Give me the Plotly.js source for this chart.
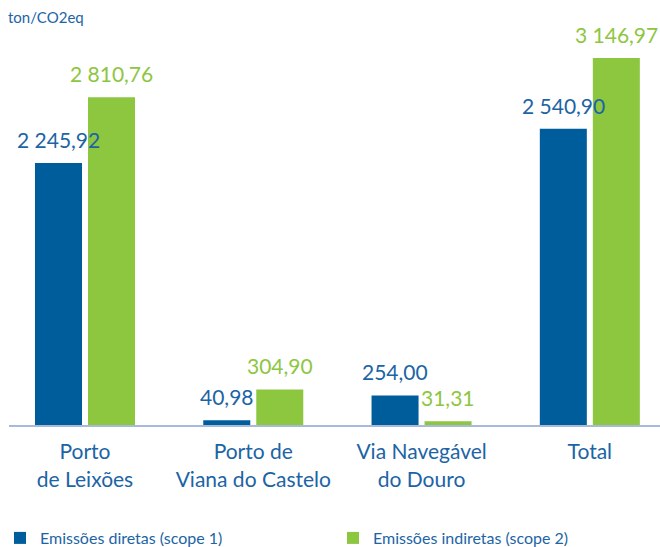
<!DOCTYPE html>
<html>
<head>
<meta charset="utf-8">
<script src="https://cdn.plot.ly/plotly-3.0.1.min.js"></script>
<style>
  html, body { margin: 0; padding: 0; background: #fff; }
  #chart { width: 660px; height: 547px; }
</style>
</head>
<body>
<div id="chart"></div>
<script>
// data
var categories = ['Porto<br>de Leixões', 'Porto de<br>Viana do Castelo', 'Via Navegável<br>do Douro', 'Total'];
var scope1 = [2245.92, 40.98, 254.00, 2540.90];
var scope2 = [2810.76, 304.90, 31.31, 3146.97];
var seriesNames = ['Emissões diretas (scope 1)', 'Emissões indiretas (scope 2)'];

var blue = '#005d9c';
var green = '#8dc63f';
var blueText = '#1c64a5';

function fmt(v)
{
    // 2 245,92 style
    var parts = v.toFixed(2).split('.');
    var intPart = parts[0].replace(/\B(?=(\d{3})+(?!\d))/g, ' ');
    return intPart + ',' + parts[1];
}

var data = [
    {
        x: categories,
        y: scope1,
        type: 'bar',
        name: seriesNames[0],
        marker: {color: blue},
        legend: 'legend',
        hoverinfo: 'skip'
    },
    {
        x: categories,
        y: scope2,
        type: 'bar',
        name: seriesNames[1],
        marker: {color: green},
        legend: 'legend2',
        hoverinfo: 'skip'
    }
];

// value labels above each bar
var annotations = [];
var series = [scope1, scope2];
var colors = [blueText, green];
for (var s = 0; s < series.length; s++)
{
    for (var k = 0; k < categories.length; k++)
    {
        annotations.push({
            x: categories[k],
            y: series[s][k],
            xref: 'x',
            yref: 'y',
            text: fmt(series[s][k]),
            showarrow: false,
            xanchor: 'center',
            yanchor: 'bottom',
            xshift: s === 0 ? -26.5 : 26.5,
            yshift: 9,
            font: {family: 'Lato, sans-serif', size: 21, color: colors[s]}
        });
    }
}

var legendFont = {family: 'Lato, sans-serif', size: 16, color: blueText};

var layout = {
    width: 660,
    height: 547,
    margin: {l: 9, r: 0, t: 30, b: 122},
    paper_bgcolor: '#fff',
    plot_bgcolor: '#fff',
    font: {family: 'Lato, sans-serif', color: blueText},
    title: {
        text: 'ton/CO2eq',
        x: 8 / 660,
        xref: 'container',
        xanchor: 'left',
        y: 1 - 18 / 547,
        yref: 'container',
        yanchor: 'middle',
        font: {family: 'Lato, sans-serif', size: 15, color: blueText}
    },
    barmode: 'group',
    bargap: 0.37,
    bargroupgap: 0.113,
    xaxis: {
        type: 'category',
        range: [-0.4516, 3.417],
        showgrid: false,
        zeroline: false,
        showline: true,
        linecolor: '#a8b9da',
        linewidth: 2,
        ticks: '',
        ticklabelstandoff: 7,
        tickfont: {family: 'Lato, sans-serif', size: 21, color: blueText}
    },
    yaxis: {
        range: [0, 3387],
        visible: false,
        showgrid: false,
        zeroline: false
    },
    showlegend: true,
    legend: {
        orientation: 'h',
        x: -18 / 651,
        xref: 'paper',
        xanchor: 'left',
        y: 9 / 547,
        yref: 'container',
        yanchor: 'middle',
        font: legendFont
    },
    legend2: {
        orientation: 'h',
        x: 324 / 651,
        xref: 'paper',
        xanchor: 'left',
        y: 9 / 547,
        yref: 'container',
        yanchor: 'middle',
        font: legendFont
    },
    annotations: annotations
};

Plotly.newPlot('chart', data, layout, {displayModeBar: false, staticPlot: true});
</script>
</body>
</html>
